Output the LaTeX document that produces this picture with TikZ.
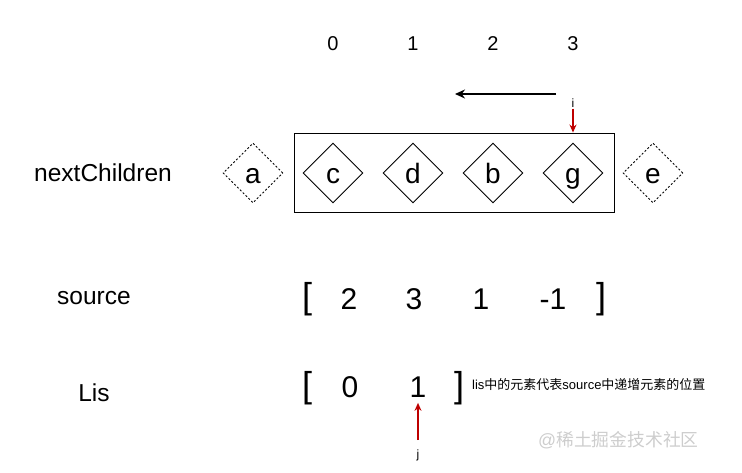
\documentclass[tikz,border=0pt]{standalone}
\usepackage{fontspec}
\setmainfont{Liberation Sans}
\newfontfamily\cjk{Noto Sans CJK SC}
\usetikzlibrary{arrows.meta,positioning,shapes.geometric}
\definecolor{PtrRed}{RGB}{190,0,0}
\definecolor{MarkGray}{RGB}{205,205,205}
\newcommand{\fs}[1]{\fontsize{#1}{#1}\selectfont}
\tikzset{
  elem/.style={draw,diamond,minimum width=60pt,minimum height=60pt,inner sep=0pt,line width=.9pt,font=\fs{28},text height=20pt,text depth=0pt},
  ghost/.style={elem,dash pattern=on 2pt off 2pt},
  ptr/.style={PtrRed,line width=1.4pt,-{Stealth[length=8pt,width=7pt]}},
  lbl/.style={font=\fs{24.5}},
  num/.style={font=\fs{30}},
  brk/.style={font=\fs{36}}
}
\begin{document}
\begin{tikzpicture}[x=1pt,y=-1pt]
\useasboundingbox (0,0) rectangle (742,472);
% index row
\foreach \k/\x in {0/333,1/413,2/493,3/573}
  \node[font=\fs{20}] (idx\k) at (\x,44) {\k};
\coordinate (mvFrom) at (556,94);\coordinate (mvTo) at (455,94);
\draw[line width=1.4pt,-{Stealth[length=10pt,width=9pt]}] (mvFrom)--(mvTo);
% nextChildren
\node[lbl] (nc) at (103,173) {nextChildren};
\node[draw,line width=.9pt,minimum width=320pt,minimum height=79pt,inner sep=0pt] (box) at (454,172.5) {};
\node[ghost] (na) at (253,173) {a};
\node[elem] (nc1) at (333,173) {c};
\node[elem] (nd) at (413,173) {d};
\node[elem] (nb) at (493,173) {b};
\node[elem] (ng) at (573,173) {g};
\node[ghost] (ne) at (653,173) {e};
\node[font=\fs{12},inner sep=1pt] (pi) at (573,103) {i};
\draw[ptr] (pi)--(pi |- box.north);
% source
\node[lbl] (src) at (94,298) {source};
\node[brk] (sl) at (307,299) {[};
\node[num] (s0) at (349,299) {2};
\node[num] (s1) at (414,299) {3};
\node[num] (s2) at (481,299) {1};
\node[num] (s3) at (553,299) {-1};
\node[brk] (sr) at (601,299) {]};
% Lis
\node[lbl] (lis) at (94,393) {Lis};
\node[brk] (ll) at (307,388) {[};
\node[num] (l0) at (350,387) {0};
\node[num] (l1) at (418,387) {1};
\node[brk] (lr) at (459,388) {]};
\node[font=\fs{13},anchor=west,inner sep=0pt] (note) at (472,385) {lis\cjk 中的元素代表\rmfamily source\cjk 中递增元素的位置};
\node[font=\fs{12},inner sep=1pt] (pj) at (418,455) {j};
\draw[ptr,shorten <=8pt,shorten >=2pt] (pj)--(pj |- l1.south);
\node[font=\fs{17.8},text=MarkGray,anchor=west,inner sep=0pt] (wm) at (538,440) {@\cjk 稀土掘金技术社区};
\end{tikzpicture}
\end{document}
